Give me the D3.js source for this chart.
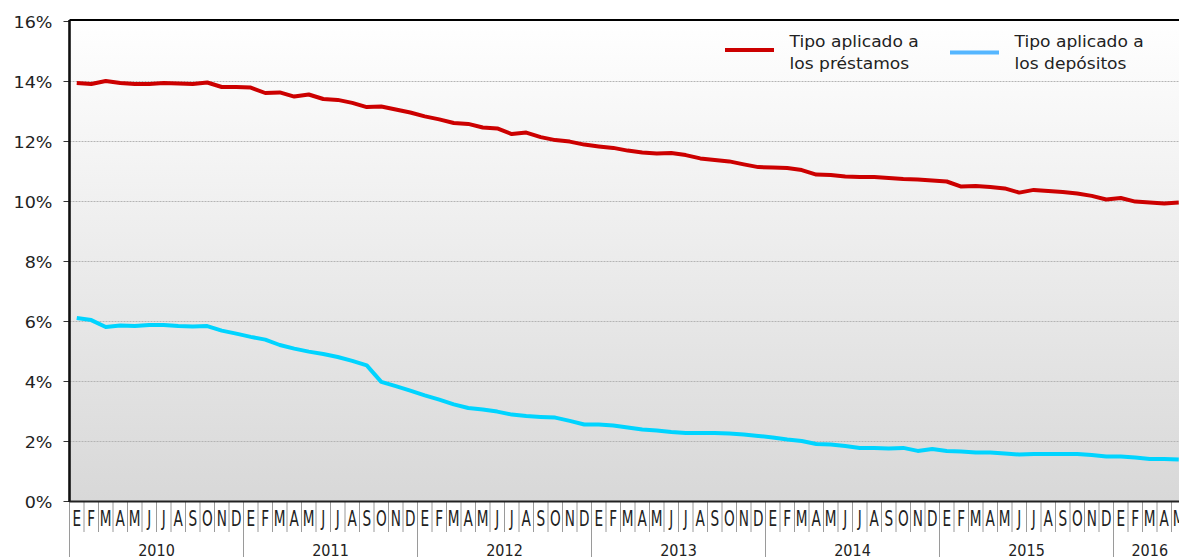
<!DOCTYPE html>
<html>
<head>
<meta charset="utf-8">
<script src="https://cdn.jsdelivr.net/npm/d3@7"></script>
<style>
  body { margin: 0; background: #fff; }
  svg { display: block; font-family: "DejaVu Sans", Verdana, sans-serif; }
</style>
</head>
<body>
<svg id="chart" width="1179" height="557"></svg>
<script>
// monthly rates, Jan 2010 .. May 2016 (%)
let years = [2010, 2011, 2012, 2013, 2014, 2015, 2016];
let month_letters = ["E","F","M","A","M","J","J","A","S","O","N","D"];
let y_ticks = [0, 2, 4, 6, 8, 10, 12, 14, 16];

let prestamos = [
  13.93, 13.90, 14.00, 13.93, 13.90, 13.90, 13.93, 13.92, 13.90, 13.95, 13.80, 13.80,
  13.78, 13.60, 13.62, 13.48, 13.55, 13.40, 13.37, 13.27, 13.13, 13.15, 13.05, 12.95,
  12.82, 12.72, 12.60, 12.57, 12.45, 12.42, 12.23, 12.28, 12.13, 12.03, 11.98, 11.88,
  11.82, 11.77, 11.68, 11.62, 11.58, 11.60, 11.53, 11.42, 11.37, 11.32, 11.22, 11.13,
  11.12, 11.10, 11.03, 10.88, 10.87, 10.82, 10.80, 10.80, 10.77, 10.73, 10.72, 10.68,
  10.65, 10.48, 10.50, 10.47, 10.42, 10.28, 10.37, 10.33, 10.30, 10.25, 10.17, 10.05,
  10.10, 9.98, 9.95, 9.92, 9.95
];
let depositos = [
  6.10, 6.03, 5.80, 5.85, 5.83, 5.87, 5.87, 5.83, 5.82, 5.83, 5.68, 5.58,
  5.47, 5.38, 5.20, 5.08, 4.98, 4.90, 4.80, 4.67, 4.52, 3.97, 3.83, 3.68,
  3.52, 3.38, 3.22, 3.10, 3.05, 2.98, 2.88, 2.83, 2.80, 2.78, 2.67, 2.55,
  2.55, 2.52, 2.45, 2.38, 2.35, 2.30, 2.27, 2.27, 2.27, 2.25, 2.22, 2.17,
  2.12, 2.05, 2.00, 1.90, 1.88, 1.83, 1.77, 1.77, 1.75, 1.77, 1.67, 1.73,
  1.67, 1.65, 1.62, 1.62, 1.58, 1.55, 1.57, 1.57, 1.57, 1.57, 1.53, 1.48,
  1.48, 1.45, 1.40, 1.40, 1.38
];

let series = [
  { name: ["Tipo aplicado a", "los préstamos"], values: prestamos, color: "#cc0000", legend: "#cc0000" },
  { name: ["Tipo aplicado a", "los depósitos"], values: depositos, color: "#00d4ff", legend: "#55b6ff" }
];

let plot_left = 69.5, plot_top = 20, plot_bottom = 501, month_w = 14.5;
let n_months = prestamos.length; // the chart ends with May 2016

let svg = d3.select("#chart");
let x = d3.scaleLinear().domain([0, n_months]).range([plot_left, plot_left + n_months * month_w]);
let y = d3.scaleLinear().domain([0, 16]).range([plot_bottom, plot_top + 1]);

// background gradient
let grad = svg.append("defs").append("linearGradient")
  .attr("id", "bg").attr("x1", 0).attr("y1", 0).attr("x2", 0).attr("y2", 1);
grad.append("stop").attr("offset", "0%").attr("stop-color", "#ffffff");
grad.append("stop").attr("offset", "100%").attr("stop-color", "#d8d8d8");

svg.append("rect")
  .attr("x", plot_left).attr("y", plot_top)
  .attr("width", x(n_months) - plot_left).attr("height", plot_bottom - plot_top)
  .attr("fill", "url(#bg)");

// gridlines
svg.append("g").selectAll("line")
  .data(y_ticks.filter(d => d > 0 && d < 16))
  .join("line")
  .attr("x1", plot_left).attr("x2", x(n_months))
  .attr("y1", d => Math.round(y(d)) + 0.5).attr("y2", d => Math.round(y(d)) + 0.5)
  .attr("stroke", "#b4b4b4").attr("stroke-dasharray", "2,1");

// y axis
let yAxis = svg.append("g")
  .attr("transform", `translate(${plot_left},0)`)
  .call(d3.axisLeft(y).tickValues(y_ticks).tickSize(6).tickFormat(d => d + "%"));
yAxis.select(".domain").remove();
yAxis.selectAll(".tick line").attr("stroke", "#333");
yAxis.selectAll(".tick text")
  .attr("font-size", 15).attr("fill", "#222")
  .attr("font-family", "DejaVu Sans, sans-serif")
  .attr("x", null).attr("dy", null)
  .attr("transform", "translate(-17,6) scale(1.17,1)");

// x separators
let xg = svg.append("g");
xg.selectAll("line.m")
  .data(d3.range(n_months + 1))
  .join("line")
  .attr("class", "m")
  .attr("x1", d => x(d)).attr("x2", d => x(d))
  .attr("y1", plot_bottom).attr("y2", d => d % 12 == 0 ? 557 : 532)
  .attr("stroke", "#9a9a9a").attr("stroke-width", 1);

xg.selectAll("text.m")
  .data(d3.range(n_months))
  .join("text")
  .attr("class", "m")
  .attr("transform", d => `translate(${x(d + 0.5)},526) scale(0.62,1)`)
  .attr("text-anchor", "middle")
  .attr("font-size", 22).attr("fill", "#222")
  .text(d => month_letters[d % 12]);

// year labels centred on the months each year has
xg.selectAll("text.y")
  .data(years)
  .join("text")
  .attr("class", "y")
  .attr("transform", (d, i) => {
    let end = Math.min(i * 12 + 12, n_months);
    return `translate(${x((i * 12 + end) / 2)},556) scale(0.9,1)`;
  })
  .attr("text-anchor", "middle")
  .attr("font-size", 16).attr("fill", "#222")
  .text(d => d);

// frame: left axis, top border, bottom axis
svg.append("line").attr("x1", plot_left).attr("x2", plot_left).attr("y1", plot_top).attr("y2", plot_bottom + 1)
  .attr("stroke", "#111").attr("stroke-width", 2.6);
svg.append("line").attr("x1", plot_left).attr("x2", x(n_months)).attr("y1", plot_top).attr("y2", plot_top)
  .attr("stroke", "#000").attr("stroke-width", 2.2);
svg.append("line").attr("x1", plot_left).attr("x2", x(n_months)).attr("y1", plot_bottom + 0.5).attr("y2", plot_bottom + 0.5)
  .attr("stroke", "#222").attr("stroke-width", 2);

// lines
let line = d3.line().x((d, i) => x(i + 0.5)).y(d => y(d));
svg.append("g").selectAll("path")
  .data(series)
  .join("path")
  .attr("d", d => line(d.values))
  .attr("fill", "none")
  .attr("stroke", d => d.color)
  .attr("stroke-width", 4)
  .attr("stroke-linejoin", "round");

// legend
let legend_x = [725, 950];
let lg = svg.append("g").selectAll("g")
  .data(series)
  .join("g")
  .attr("transform", (d, i) => `translate(${legend_x[i]},0)`);
lg.append("line")
  .attr("x1", 0).attr("x2", 49)
  .attr("y1", (d, i) => i == 0 ? 50 : 52.5).attr("y2", (d, i) => i == 0 ? 50 : 52.5)
  .attr("stroke", d => d.legend).attr("stroke-width", 4);
lg.each(function(d) {
  let g = d3.select(this);
  d.name.forEach((t, k) => {
    g.append("text")
      .attr("transform", `translate(64.5,${46.5 + k * 22}) scale(1.07,1)`)
      .attr("font-size", 16).attr("fill", "#222")
      .text(t);
  });
});
</script>
</body>
</html>
